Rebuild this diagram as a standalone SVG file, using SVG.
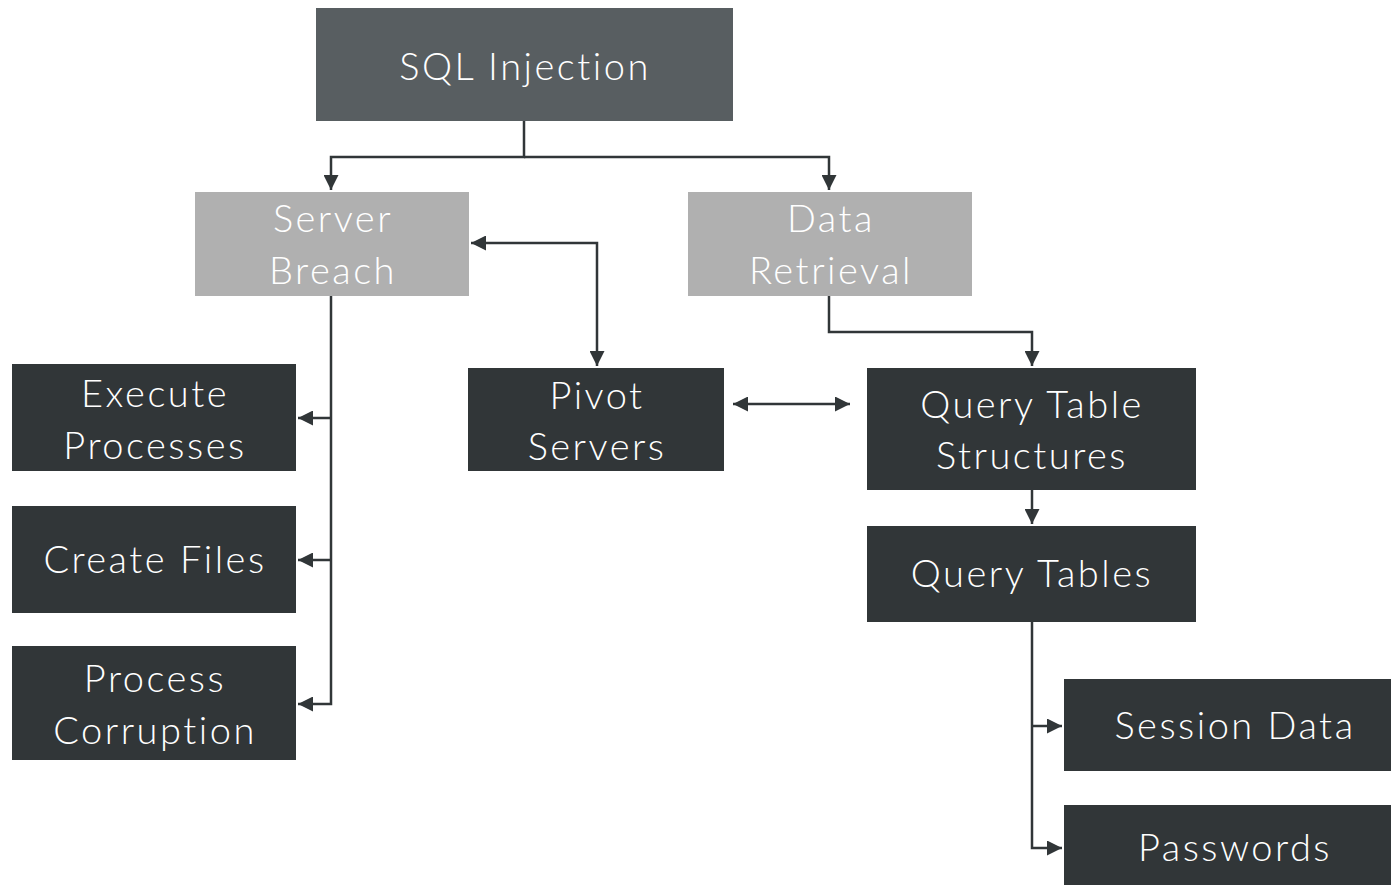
<svg xmlns="http://www.w3.org/2000/svg" width="1391" height="885" viewBox="0 0 1391 885">
  <style>
    .dark { fill: #313638; }
    .root { fill: #585e61; }
    .light { fill: #b0b0b0; }
    .label { font-family: Lato, "Liberation Sans", sans-serif; font-size: 38px; font-weight: 300; letter-spacing: 2.5px; fill: #ffffff; text-anchor: middle; dominant-baseline: central; }
    .wire { fill: none; stroke: #313638; stroke-width: 2.5; }
  </style>
  <defs>
    <marker id="arrow" viewBox="0 0 10 10" refX="10" refY="5" markerWidth="6" markerHeight="6" markerUnits="strokeWidth" orient="auto-start-reverse">
      <path d="M0,0 L10,5 L0,10 Z" fill="#313638"/>
    </marker>
  </defs>

  <g id="connectors">
    <path class="wire" d="M524,121 V157 H331 V190" marker-end="url(#arrow)"/>
    <path class="wire" d="M524,157 H829 V190" marker-end="url(#arrow)"/>
    <path class="wire" d="M331,296 V704 H298" marker-end="url(#arrow)"/>
    <path class="wire" d="M331,418 H298" marker-end="url(#arrow)"/>
    <path class="wire" d="M331,560 H298" marker-end="url(#arrow)"/>
    <path class="wire" d="M471,243 H597 V366" marker-start="url(#arrow)" marker-end="url(#arrow)"/>
    <path class="wire" d="M733,404 H850" marker-start="url(#arrow)" marker-end="url(#arrow)"/>
    <path class="wire" d="M829,296 V332 H1032 V366" marker-end="url(#arrow)"/>
    <path class="wire" d="M1032,490 V524" marker-end="url(#arrow)"/>
    <path class="wire" d="M1032,622 V848 H1062" marker-end="url(#arrow)"/>
    <path class="wire" d="M1032,726 H1062" marker-end="url(#arrow)"/>
  </g>

  <g id="sql-injection">
    <rect class="root" x="316" y="8" width="417" height="113"/>
    <text class="label" x="525" y="65">SQL Injection</text>
  </g>
  <g id="server-breach">
    <rect class="light" x="195" y="192" width="274" height="104"/>
    <text class="label" x="333" y="217">Server</text>
    <text class="label" x="333" y="269">Breach</text>
  </g>
  <g id="data-retrieval">
    <rect class="light" x="688" y="192" width="284" height="104"/>
    <text class="label" x="831" y="217">Data</text>
    <text class="label" x="831" y="269">Retrieval</text>
  </g>
  <g id="execute-processes">
    <rect class="dark" x="12" y="364" width="284" height="107"/>
    <text class="label" x="155" y="392">Execute</text>
    <text class="label" x="155" y="444">Processes</text>
  </g>
  <g id="create-files">
    <rect class="dark" x="12" y="506" width="284" height="107"/>
    <text class="label" x="155" y="558">Create Files</text>
  </g>
  <g id="process-corruption">
    <rect class="dark" x="12" y="646" width="284" height="114"/>
    <text class="label" x="155" y="677">Process</text>
    <text class="label" x="155" y="729">Corruption</text>
  </g>
  <g id="pivot-servers">
    <rect class="dark" x="468" y="368" width="256" height="103"/>
    <text class="label" x="597" y="394">Pivot</text>
    <text class="label" x="597" y="445">Servers</text>
  </g>
  <g id="query-table-structures">
    <rect class="dark" x="867" y="368" width="329" height="122"/>
    <text class="label" x="1032" y="403">Query Table</text>
    <text class="label" x="1032" y="454">Structures</text>
  </g>
  <g id="query-tables">
    <rect class="dark" x="867" y="526" width="329" height="96"/>
    <text class="label" x="1032" y="572">Query Tables</text>
  </g>
  <g id="session-data">
    <rect class="dark" x="1064" y="679" width="327" height="92"/>
    <text class="label" x="1235" y="724">Session Data</text>
  </g>
  <g id="passwords">
    <rect class="dark" x="1064" y="805" width="327" height="80"/>
    <text class="label" x="1235" y="846">Passwords</text>
  </g>
</svg>
